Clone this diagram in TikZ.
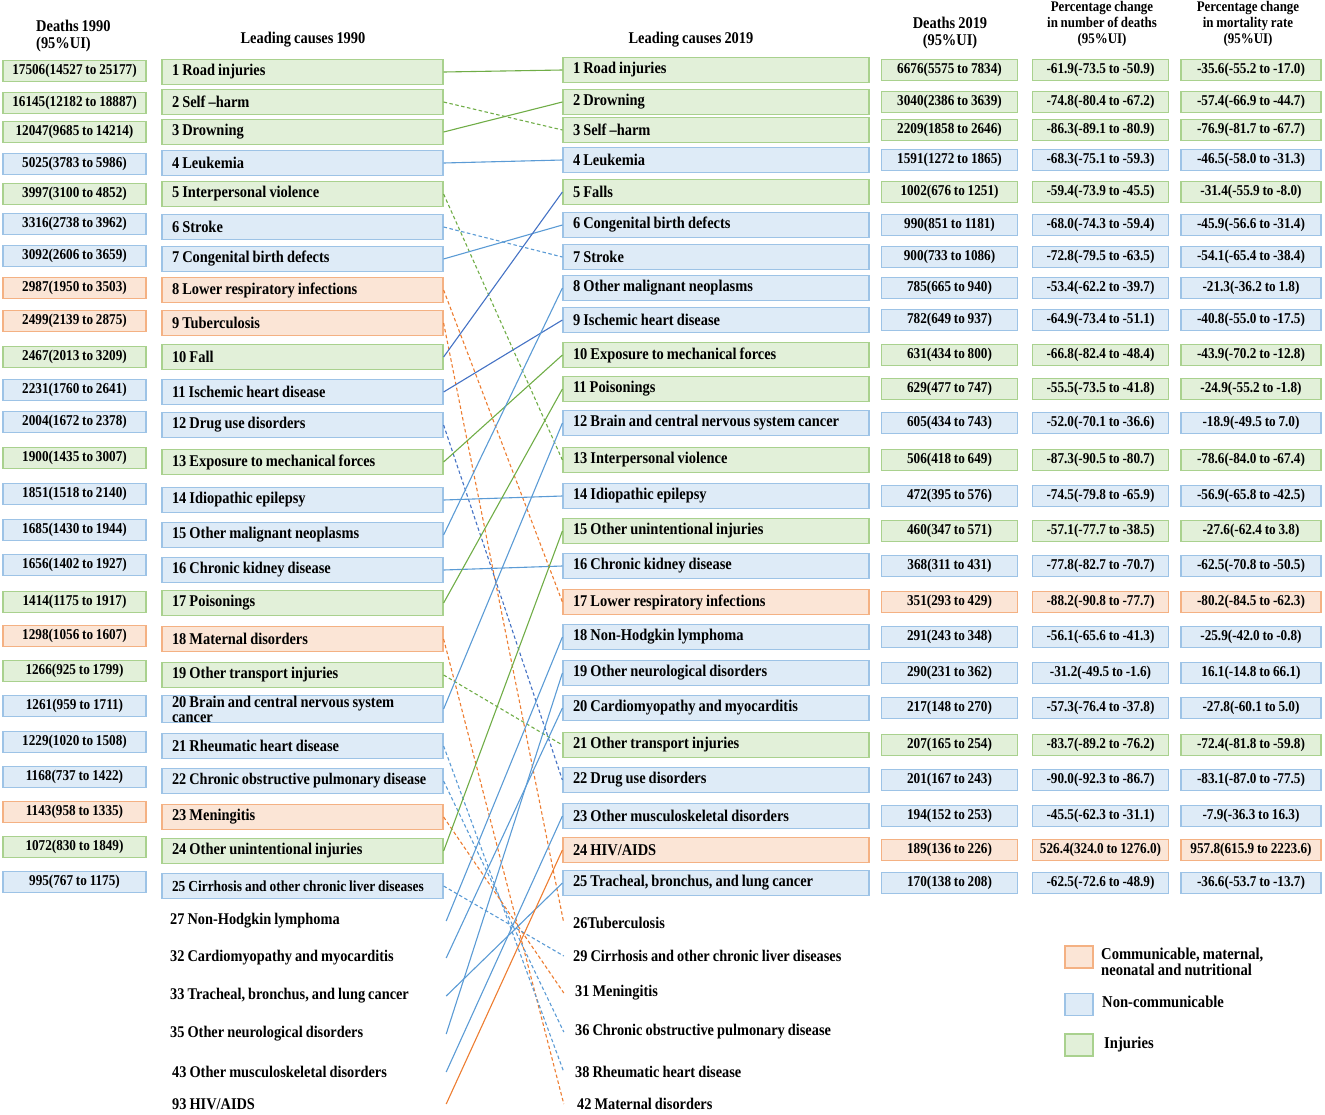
\documentclass[tikz,border=0pt]{standalone}
\usepackage{fontspec}
\setmainfont{Liberation Serif}[FakeStretch=0.88, WordSpace=0.85]
\definecolor{injfill}{HTML}{E2F0D9}
\definecolor{injdraw}{HTML}{A9D18E}
\definecolor{injline}{HTML}{70AD47}
\definecolor{ncdfill}{HTML}{DEEBF7}
\definecolor{ncddraw}{HTML}{9DC3E6}
\definecolor{ncdline}{HTML}{5B9BD5}
\definecolor{ncddark}{HTML}{4472C4}
\definecolor{cmnfill}{HTML}{FBE5D6}
\definecolor{cmndraw}{HTML}{F4B183}
\definecolor{cmnline}{HTML}{ED7D31}
\hyphenpenalty=10000
\exhyphenpenalty=10000

\begin{document}
\begin{tikzpicture}[x=1pt, y=-1pt,
  box/.style={draw, line width=1.2pt, inner sep=0pt},
  inj/.style={draw=injdraw, fill=injfill},
  ncd/.style={draw=ncddraw, fill=ncdfill},
  cmn/.style={draw=cmndraw, fill=cmnfill},
  numbox/.style={box, minimum width=143pt, minimum height=21pt,
    font=\bfseries\fontsize{15}{16}\selectfont},
  smallbox/.style={numbox, minimum width=136pt},
  causebox/.style={box, minimum height=25pt, inner xsep=10pt, align=flush left,
    font=\bfseries\fontsize{16.4}{16}\selectfont},
  causetext/.style={inner sep=0pt, font=\bfseries\fontsize{16.3}{16}\selectfont},
  head/.style={inner sep=0pt, align=center, font=\bfseries\fontsize{16.4}{17}\selectfont},
  pcthead/.style={head, font=\bfseries\fontsize{14.7}{16}\selectfont},
  endpt/.style={inner sep=0pt, minimum size=0pt},
  legbox/.style={box, minimum width=28pt, minimum height=22pt},
  legtext/.style={inner sep=0pt, anchor=west, align=left, font=\bfseries\fontsize{16.6}{16}\selectfont},
  lg/.style={injline, line width=1.1pt},
  lb/.style={ncdline, line width=1.1pt},
  ldb/.style={ncddark, line width=1.1pt},
  lo/.style={cmnline, line width=1.1pt},
  down/.style={dash pattern=on 3.5pt off 2.5pt}]

\useasboundingbox (0,0) rectangle (1325,1114);

\node[head, align=left, anchor=west] (h-d90) at (36,36) {Deaths 1990\\(95\%UI)};
\node[head] (h-c90) at (303,40) {Leading causes 1990};
\node[head] (h-c19) at (691,40) {Leading causes 2019};
\node[head] (h-d19) at (950,33) {Deaths 2019\\(95\%UI)};
\node[pcthead] (h-pn) at (1102,24) {Percentage change\\in number of deaths\\(95\%UI)};
\node[pcthead] (h-pr) at (1248,24) {Percentage change\\in mortality rate\\(95\%UI)};

\foreach \n/\ya/\yb/\d/\t/\c in {
  1/71/72/{17506(14527 to 25177)}/{1 Road injuries}/inj,
  2/103/102/{16145(12182 to 18887)}/{2 Self –harm}/inj,
  3/132/132/{12047(9685 to 14214)}/{3 Drowning}/inj,
  4/164/163/{5025(3783 to 5986)}/{4 Leukemia}/ncd,
  5/194/194/{3997(3100 to 4852)}/{5 Interpersonal violence}/inj,
  6/224/227/{3316(2738 to 3962)}/{6 Stroke}/ncd,
  7/256/259/{3092(2606 to 3659)}/{7 Congenital birth defects}/ncd,
  8/288/290/{2987(1950 to 3503)}/{8 Lower respiratory infections}/cmn,
  9/321/323/{2499(2139 to 2875)}/{9 Tuberculosis}/cmn,
  10/357/357/{2467(2013 to 3209)}/{10 Fall}/inj,
  11/390/392/{2231(1760 to 2641)}/{11 Ischemic heart disease}/ncd,
  12/422/425/{2004(1672 to 2378)}/{12 Drug use disorders}/ncd,
  13/458/462/{1900(1435 to 3007)}/{13 Exposure to mechanical forces}/inj,
  14/494/500/{1851(1518 to 2140)}/{14 Idiopathic epilepsy}/ncd,
  15/530/535/{1685(1430 to 1944)}/{15 Other malignant neoplasms}/ncd,
  16/565/570/{1656(1402 to 1927)}/{16 Chronic kidney disease}/ncd,
  17/602/603/{1414(1175 to 1917)}/{17 Poisonings}/inj,
  18/636/639/{1298(1056 to 1607)}/{18 Maternal disorders}/cmn,
  19/671/675/{1266(925 to 1799)}/{19 Other transport injuries}/inj,
  20/706/709/{1261(959 to 1711)}/{20 Brain and central nervous system\\[-1pt]cancer}/ncd,
  21/742/746/{1229(1020 to 1508)}/{21 Rheumatic heart disease}/ncd,
  22/777/781/{1168(737 to 1422)}/{\fontsize{16.2}{16}\selectfont 22 Chronic obstructive pulmonary disease}/ncd,
  23/812/817/{1143(958 to 1335)}/{23 Meningitis}/cmn,
  24/847/851/{1072(830 to 1849)}/{24 Other unintentional injuries}/inj,
  25/882/886/{995(767 to 1175)}/{\fontsize{15.3}{16}\selectfont 25 Cirrhosis and other chronic liver diseases}/ncd}{
  \node[numbox, \c] (d90-\n) at (74.5,\ya) {\d};
  \node[causebox, \c, text width=261pt] (c90-\n) at (302.5,\yb) {\t};
}

\foreach \n/\ya/\t/\c/\d/\p/\r in {
  1/70/{1 Road injuries}/inj/{6676(5575 to 7834)}/{-61.9(-73.5 to -50.9)}/{-35.6(-55.2 to -17.0)},
  2/102/{2 Drowning}/inj/{3040(2386 to 3639)}/{-74.8(-80.4 to -67.2)}/{-57.4(-66.9 to -44.7)},
  3/130/{3 Self –harm}/inj/{2209(1858 to 2646)}/{-86.3(-89.1 to -80.9)}/{-76.9(-81.7 to -67.7)},
  4/160/{4 Leukemia}/ncd/{1591(1272 to 1865)}/{-68.3(-75.1 to -59.3)}/{-46.5(-58.0 to -31.3)},
  5/192/{5 Falls}/inj/{1002(676 to 1251)}/{-59.4(-73.9 to -45.5)}/{-31.4(-55.9 to -8.0)},
  6/225/{6 Congenital birth defects}/ncd/{990(851 to 1181)}/{-68.0(-74.3 to -59.4)}/{-45.9(-56.6 to -31.4)},
  7/257/{7 Stroke}/ncd/{900(733 to 1086)}/{-72.8(-79.5 to -63.5)}/{-54.1(-65.4 to -38.4)},
  8/288/{8 Other malignant neoplasms}/ncd/{785(665 to 940)}/{-53.4(-62.2 to -39.7)}/{-21.3(-36.2 to 1.8)},
  9/320/{9 Ischemic heart disease}/ncd/{782(649 to 937)}/{-64.9(-73.4 to -51.1)}/{-40.8(-55.0 to -17.5)},
  10/355/{10 Exposure to mechanical forces}/inj/{631(434 to 800)}/{-66.8(-82.4 to -48.4)}/{-43.9(-70.2 to -12.8)},
  11/389/{11 Poisonings}/inj/{629(477 to 747)}/{-55.5(-73.5 to -41.8)}/{-24.9(-55.2 to -1.8)},
  12/423/{12 Brain and central nervous system cancer}/ncd/{605(434 to 743)}/{-52.0(-70.1 to -36.6)}/{-18.9(-49.5 to 7.0)},
  13/460/{13 Interpersonal violence}/inj/{506(418 to 649)}/{-87.3(-90.5 to -80.7)}/{-78.6(-84.0 to -67.4)},
  14/496/{14 Idiopathic epilepsy}/ncd/{472(395 to 576)}/{-74.5(-79.8 to -65.9)}/{-56.9(-65.8 to -42.5)},
  15/531/{15 Other unintentional injuries}/inj/{460(347 to 571)}/{-57.1(-77.7 to -38.5)}/{-27.6(-62.4 to 3.8)},
  16/566/{16 Chronic kidney disease}/ncd/{368(311 to 431)}/{-77.8(-82.7 to -70.7)}/{-62.5(-70.8 to -50.5)},
  17/602/{17 Lower respiratory infections}/cmn/{351(293 to 429)}/{-88.2(-90.8 to -77.7)}/{-80.2(-84.5 to -62.3)},
  18/637/{18 Non-Hodgkin lymphoma}/ncd/{291(243 to 348)}/{-56.1(-65.6 to -41.3)}/{-25.9(-42.0 to -0.8)},
  19/673/{19 Other neurological disorders}/ncd/{290(231 to 362)}/{-31.2(-49.5 to -1.6)}/{16.1(-14.8 to 66.1)},
  20/708/{20 Cardiomyopathy and myocarditis}/ncd/{217(148 to 270)}/{-57.3(-76.4 to -37.8)}/{-27.8(-60.1 to 5.0)},
  21/745/{21 Other transport injuries}/inj/{207(165 to 254)}/{-83.7(-89.2 to -76.2)}/{-72.4(-81.8 to -59.8)},
  22/780/{22 Drug use disorders}/ncd/{201(167 to 243)}/{-90.0(-92.3 to -86.7)}/{-83.1(-87.0 to -77.5)},
  23/816/{23 Other musculoskeletal disorders}/ncd/{194(152 to 253)}/{-45.5(-62.3 to -31.1)}/{-7.9(-36.3 to 16.3)},
  24/850/{24 HIV/AIDS}/cmn/{189(136 to 226)}/{526.4(324.0 to 1276.0)}/{957.8(615.9 to 2223.6)},
  25/883/{25 Tracheal, bronchus, and lung cancer}/ncd/{170(138 to 208)}/{-62.5(-72.6 to -48.9)}/{-36.6(-53.7 to -13.7)}}{
  \node[causebox, \c, text width=286pt] (c19-\n) at (716,\ya) {\t};
  \node[smallbox, \c] (d19-\n) at (949.5,\ya) {\d};
  \node[smallbox, \c] (pn-\n) at (1100.5,\ya) {\p};
  \node[smallbox, \c, minimum width=140pt] (pr-\n) at (1251,\ya) {\r};
}

\foreach \n/\ya/\xa/\t in {
  27/921/170/{27 Non-Hodgkin lymphoma},
  32/958/170/{32 Cardiomyopathy and myocarditis},
  33/996/170/{33 Tracheal, bronchus, and lung cancer},
  35/1034/170/{35 Other neurological disorders},
  43/1072/172/{43 Other musculoskeletal disorders},
  93/1104/172/{93 HIV/AIDS}}{
  \node[causetext, anchor=west] (t90-\n) at (\xa,\ya) {\t};
  \node[endpt] (c90-\n) at (446,\ya) {};
}

\foreach \n/\ya/\xa/\t in {
  26/923/573/{26Tuberculosis},
  29/956/573/{29 Cirrhosis and other chronic liver diseases},
  31/993/575/{31 Meningitis},
  36/1032/575/{36 Chronic obstructive pulmonary disease},
  38/1072/575/{38 Rheumatic heart disease},
  42/1104/577/{42 Maternal disorders}}{
  \node[causetext, anchor=west] (t19-\n) at (\xa,\ya) {\t};
  \node[endpt] (c19-\n) at (564,\ya) {};
}

\foreach \a/\b/\col/\pat in {
  1/1/lg/solid, 2/3/lg/down, 3/2/lg/solid, 4/4/lb/solid, 5/13/lg/down,
  6/7/lb/down, 7/6/lb/solid, 8/17/lo/down, 9/26/lo/down, 10/5/ldb/solid,
  11/9/ldb/solid, 12/22/ldb/down, 13/10/lg/solid, 14/14/lb/solid,
  15/8/lb/solid, 16/16/lb/solid, 17/11/lg/solid, 18/42/lo/down,
  19/21/lg/down, 20/12/lb/solid, 21/38/lb/down, 22/36/lb/down,
  23/31/lo/down, 24/15/lg/solid, 25/29/lb/down, 27/18/lb/solid,
  32/20/lb/solid, 33/25/lb/solid, 35/19/lb/solid, 43/23/lb/solid,
  93/24/lo/solid}
  \draw[\col, \pat] (c90-\a.east) -- (c19-\b.west);

\node[legbox, cmn] (leg-cmn) at (1079,957) {};
\node[legbox, ncd] (leg-ncd) at (1079,1004.5) {};
\node[legbox, inj] (leg-inj) at (1079,1045) {};
\node[legtext] (leg-cmn-t) at (1101,962) {Communicable, maternal,\\neonatal and nutritional};
\node[legtext] (leg-ncd-t) at (1102,1002) {Non-communicable};
\node[legtext] (leg-inj-t) at (1104,1044) {Injuries};
\end{tikzpicture}
\end{document}
